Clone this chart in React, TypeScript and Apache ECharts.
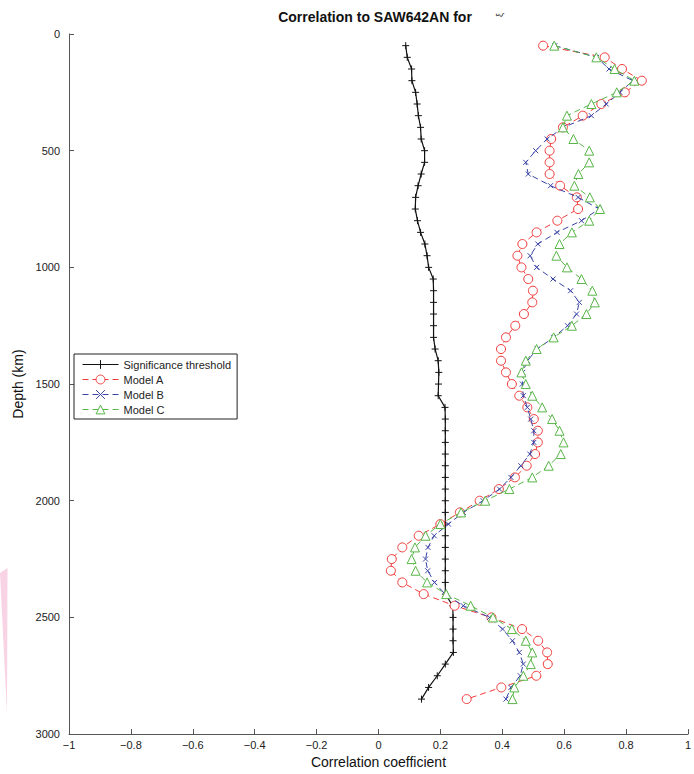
import React, { useEffect, useRef } from "react";
import * as echarts from "echarts";

const depths: number[] = [
  50, 100, 150, 200, 250, 300, 350, 400, 450, 500, 550, 600, 650, 700, 750, 800, 850, 900, 950, 1000,
  1050, 1100, 1150, 1200, 1250, 1300, 1350, 1400, 1450, 1500, 1550, 1600, 1650, 1700, 1750, 1800, 1850, 1900, 1950, 2000,
  2050, 2100, 2150, 2200, 2250, 2300, 2350, 2400, 2450, 2500, 2550, 2600, 2650, 2700, 2750, 2800, 2850,
];

const threshold: number[] = [
  0.088, 0.093, 0.107, 0.108, 0.12, 0.125, 0.129, 0.136, 0.138, 0.149, 0.149, 0.138, 0.128, 0.12, 0.119, 0.126, 0.136, 0.15, 0.157, 0.162,
  0.177, 0.178, 0.178, 0.178, 0.178, 0.178, 0.183, 0.193, 0.195, 0.194, 0.193, 0.215, 0.216, 0.216, 0.216, 0.216, 0.216, 0.216, 0.216, 0.216,
  0.216, 0.216, 0.216, 0.216, 0.216, 0.216, 0.216, 0.216, 0.24, 0.241, 0.241, 0.241, 0.242, 0.216, 0.19, 0.162, 0.139,
];

const modelA: number[] = [
  0.532, 0.731, 0.787, 0.851, 0.796, 0.72, 0.66, 0.596, 0.558, 0.553, 0.553, 0.553, 0.587, 0.641, 0.645, 0.578, 0.511, 0.465, 0.449, 0.462,
  0.484, 0.499, 0.497, 0.47, 0.442, 0.412, 0.396, 0.396, 0.412, 0.431, 0.455, 0.481, 0.502, 0.515, 0.515, 0.506, 0.479, 0.441, 0.389, 0.327,
  0.263, 0.2, 0.13, 0.077, 0.043, 0.04, 0.077, 0.146, 0.246, 0.365, 0.464, 0.516, 0.545, 0.547, 0.51, 0.397, 0.285,
];

const modelB: number[] = [
  0.57, 0.705, 0.745, 0.822, 0.78, 0.736, 0.688, 0.598, 0.545, 0.508, 0.476, 0.484, 0.556, 0.645, 0.713, 0.656, 0.577, 0.515, 0.49, 0.511,
  0.564, 0.621, 0.649, 0.64, 0.611, 0.566, 0.513, 0.481, 0.466, 0.465, 0.468, 0.481, 0.492, 0.502, 0.502, 0.489, 0.46, 0.428, 0.391, 0.338,
  0.274, 0.226, 0.18, 0.16, 0.152, 0.159, 0.181, 0.215, 0.274, 0.359, 0.401, 0.433, 0.455, 0.468, 0.458, 0.428, 0.412,
];

const modelC: number[] = [
  0.568, 0.704, 0.763, 0.827, 0.77, 0.688, 0.609, 0.596, 0.63, 0.681, 0.681, 0.646, 0.633, 0.683, 0.716, 0.681, 0.625, 0.585, 0.575, 0.609,
  0.656, 0.691, 0.699, 0.672, 0.625, 0.566, 0.511, 0.476, 0.462, 0.476, 0.497, 0.529, 0.561, 0.585, 0.598, 0.589, 0.55, 0.497, 0.423, 0.345,
  0.267, 0.2, 0.152, 0.118, 0.107, 0.12, 0.157, 0.219, 0.298, 0.37, 0.431, 0.476, 0.497, 0.492, 0.468, 0.439, 0.433,
];

const seriesNames: string[] = ["Significance threshold", "Model A", "Model B", "Model C"];

const FONT = "'Liberation Sans', Arial, Helvetica, sans-serif";

function pairs(xs: number[]): number[][] {
  return xs.map((x, i) => [x, depths[i]]);
}

export default function App() {
  const ref = useRef<HTMLDivElement>(null);

  useEffect(() => {
    document.body.style.margin = "0";
    if (!ref.current) return;
    const chart = echarts.init(ref.current, null, { renderer: "svg" });

    const red = "#f03a3a";
    const blue = "#3a44a6";
    const green = "#58b648";

    const option: any = {
      animation: false,
      backgroundColor: "#ffffff",
      textStyle: { fontFamily: FONT },
      grid: { left: 69, right: -2, top: 34, bottom: 36, containLabel: false },
      xAxis: {
        type: "value",
        min: -1,
        max: 1,
        interval: 0.2,
        name: "Correlation coefficient",
        nameLocation: "middle",
        nameGap: 20,
        nameTextStyle: { fontSize: 14, color: "#111", fontFamily: FONT },
        axisLine: { show: true, onZero: false, lineStyle: { color: "#555", width: 1 } },
        axisTick: { show: true, inside: true, length: 5, lineStyle: { color: "#555" } },
        splitLine: { show: false },
        axisLabel: {
          fontSize: 11,
          color: "#222",
          margin: 5,
          showMinLabel: true,
          showMaxLabel: true,
          formatter: (v: number) => {
            const r = Math.round(v * 10) / 10;
            const s = Number.isInteger(r) ? String(r) : r.toFixed(1);
            return s.replace("-", "\u2212");
          },
        },
      },
      yAxis: {
        type: "value",
        min: 0,
        max: 3000,
        interval: 500,
        inverse: true,
        name: "Depth (km)",
        nameLocation: "middle",
        nameGap: 31,
        nameRotate: 90,
        nameTextStyle: { fontSize: 14, color: "#111", fontFamily: FONT },
        axisLine: { show: true, onZero: false, lineStyle: { color: "#555", width: 1 } },
        axisTick: { show: true, inside: true, length: 5, lineStyle: { color: "#555" } },
        splitLine: { show: false },
        axisLabel: {
          fontSize: 11,
          color: "#222",
          margin: 9,
          showMinLabel: true,
          showMaxLabel: true,
          formatter: (v: number) => String(v),
        },
      },
      legend: {
        orient: "vertical",
        left: 74,
        top: 354,
        backgroundColor: "#fff",
        borderColor: "#222",
        borderWidth: 1,
        borderRadius: 0,
        padding: [5, 6, 4, 8],
        itemGap: 4,
        itemWidth: 36,
        itemHeight: 11,
        lineStyle: { width: 1 },
        itemStyle: { borderWidth: 1 },
        textStyle: { fontSize: 11, color: "#222", fontFamily: FONT, lineHeight: 11 },
        data: seriesNames,
      },
      series: [
        {
          name: seriesNames[0],
          type: "line",
          data: pairs(threshold),
          symbol: "path://M5,0L5,10M0,5L10,5",
          symbolSize: 7,
          lineStyle: { color: "#111", width: 1.2, type: "solid" },
          itemStyle: { color: "#111", borderColor: "#111", borderWidth: 1 },
          z: 2,
        },
        {
          name: seriesNames[1],
          type: "line",
          data: pairs(modelA),
          symbol: "circle",
          symbolSize: 9,
          lineStyle: { color: red, width: 1, type: [6, 4] },
          itemStyle: { color: "#ffffff", borderColor: red, borderWidth: 1 },
          z: 3,
        },
        {
          name: seriesNames[2],
          type: "line",
          data: pairs(modelB),
          symbol: "path://M0,0L10,10M10,0L0,10",
          symbolSize: 5,
          lineStyle: { color: blue, width: 1, type: [6, 4] },
          itemStyle: { color: blue, borderColor: blue, borderWidth: 1 },
          z: 4,
        },
        {
          name: seriesNames[3],
          type: "line",
          data: pairs(modelC),
          symbol: "triangle",
          symbolSize: 9,
          lineStyle: { color: green, width: 1, type: [6, 4] },
          itemStyle: { color: "#ffffff", borderColor: green, borderWidth: 1 },
          z: 5,
        },
      ],
      graphic: [
        {
          type: "polygon",
          shape: { points: [[0, 573], [7.5, 568], [7, 714]] },
          style: { fill: "#f8d3e3" },
          silent: true,
        },
        {
          type: "text",
          x: 375,
          y: 17,
          style: {
            text: "Correlation to SAW642AN for",
            fontSize: 14,
            fontWeight: "bold",
            fontFamily: FONT,
            fill: "#111",
            align: "center",
            verticalAlign: "middle",
          },
        },
        {
          type: "text",
          x: 500,
          y: 15,
          rotation: Math.PI / 2,
          style: {
            text: "ξ",
            fontSize: 9,
            fontFamily: FONT,
            fill: "#333",
            align: "center",
            verticalAlign: "middle",
          },
        },
      ],
    };

    chart.setOption(option);
    return () => chart.dispose();
  }, []);

  return <div ref={ref} style={{ width: 694, height: 774 }} />;
}
